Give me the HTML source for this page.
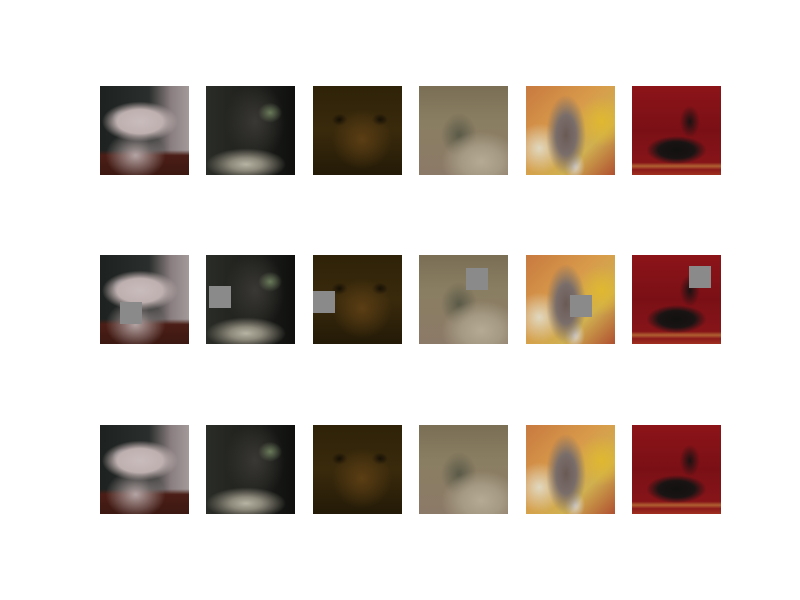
<!DOCTYPE html>
<html><head><meta charset="utf-8"><style>
html,body{margin:0;padding:0;background:#fff;}
#fig{position:relative;width:800px;height:600px;background:#fff;overflow:hidden;}
.im{position:absolute;width:89px;height:89px;}
.m{position:absolute;width:22px;height:22px;background:#8a8a8a;}
.c1{background:
 radial-gradient(ellipse 38px 20px at 45% 40%,#c9bcbc 0%,#bfb0b0 60%,rgba(190,175,175,0) 100%),
 radial-gradient(ellipse 30px 24px at 40% 78%,#b3a4a4 0%,rgba(170,155,155,0) 100%),
 radial-gradient(ellipse 10px 8px at 25% 35%,#7d8fa0 0%,rgba(125,143,160,0) 100%),
 linear-gradient(180deg,rgba(0,0,0,0) 0%,rgba(0,0,0,0) 72%,#4b1e16 78%,#3c1812 100%),
 linear-gradient(90deg,#1d2220 0%,#2a2e2c 55%,#8a7e80 80%,#a39a9a 100%);}
.c2{background:
 radial-gradient(ellipse 40px 16px at 45% 88%,#b8b4a4 0%,#8c887a 40%,rgba(60,60,55,0) 100%),
 radial-gradient(ellipse 12px 10px at 72% 30%,#6a7a5a 0%,rgba(80,90,70,0) 100%),
 radial-gradient(ellipse 30px 40px at 55% 40%,#3a3834 0%,rgba(40,40,38,0) 100%),
 linear-gradient(90deg,#2a2c27 0%,#1c1d1a 60%,#0f100e 100%);}
.c3{background:
 radial-gradient(ellipse 30px 30px at 55% 60%,#5b3e14 0%,rgba(70,50,15,0) 100%),
 radial-gradient(ellipse 8px 6px at 75% 38%,#0e0a04 0%,rgba(14,10,4,0) 100%),
 radial-gradient(ellipse 8px 6px at 30% 38%,#140e04 0%,rgba(14,10,4,0) 100%),
 linear-gradient(180deg,#2e2208 0%,#3a2a0c 50%,#231a07 100%);}
.c4{background:
 radial-gradient(ellipse 40px 30px at 70% 85%,#b5aa94 0%,#a59a84 50%,rgba(150,140,120,0) 100%),
 radial-gradient(ellipse 18px 22px at 45% 55%,#5a5a48 0%,rgba(90,90,72,0) 100%),
 linear-gradient(180deg,#7a6f55 0%,#8a7e62 40%,#8c7a68 100%);}
.c5{background:
 radial-gradient(ellipse 20px 40px at 45% 55%,#6a5a56 0%,#7a6e6a 50%,rgba(120,110,105,0) 100%),
 radial-gradient(ellipse 10px 14px at 55% 90%,#d8d4d0 0%,rgba(216,212,208,0) 100%),
 radial-gradient(ellipse 25px 25px at 85% 40%,#e0b830 0%,rgba(224,184,48,0) 100%),
 radial-gradient(ellipse 25px 25px at 15% 70%,#e0d8c0 0%,rgba(224,216,192,0) 100%),
 linear-gradient(135deg,#c87a40 0%,#d89a4a 40%,#d0b050 70%,#b05030 100%);}
.c6{background:
 radial-gradient(ellipse 30px 14px at 50% 72%,#121010 0%,#1a1414 60%,rgba(26,20,20,0) 100%),
 radial-gradient(ellipse 10px 16px at 65% 40%,#1a1212 0%,rgba(26,18,18,0) 100%),
 linear-gradient(180deg,rgba(0,0,0,0) 0%,rgba(0,0,0,0) 86%,#b06030 90%,#8c1a1a 94%,#a03020 100%),
 linear-gradient(180deg,#8c1418 0%,#7a1016 50%,#8a161a 100%);}
</style></head><body>
<div id="fig">
<div class="im c1" style="left:100px;top:86px"></div>
<div class="im c2" style="left:206px;top:86px"></div>
<div class="im c3" style="left:313px;top:86px"></div>
<div class="im c4" style="left:419px;top:86px"></div>
<div class="im c5" style="left:526px;top:86px"></div>
<div class="im c6" style="left:632px;top:86px"></div>
<div class="im c1" style="left:100px;top:255px"><div class="m" style="left:20px;top:47px"></div></div>
<div class="im c2" style="left:206px;top:255px"><div class="m" style="left:3px;top:31px"></div></div>
<div class="im c3" style="left:313px;top:255px"><div class="m" style="left:0px;top:36px"></div></div>
<div class="im c4" style="left:419px;top:255px"><div class="m" style="left:47px;top:13px"></div></div>
<div class="im c5" style="left:526px;top:255px"><div class="m" style="left:44px;top:40px"></div></div>
<div class="im c6" style="left:632px;top:255px"><div class="m" style="left:57px;top:11px"></div></div>
<div class="im c1" style="left:100px;top:425px"></div>
<div class="im c2" style="left:206px;top:425px"></div>
<div class="im c3" style="left:313px;top:425px"></div>
<div class="im c4" style="left:419px;top:425px"></div>
<div class="im c5" style="left:526px;top:425px"></div>
<div class="im c6" style="left:632px;top:425px"></div>
</div>
</body></html>
